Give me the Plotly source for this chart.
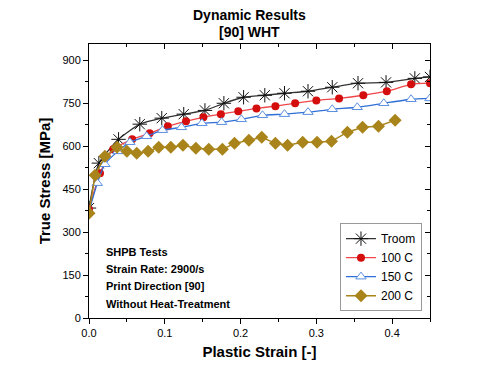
import plotly.graph_objects as go

# Troom
x_troom = [0.0, 0.013, 0.039, 0.067, 0.096, 0.125, 0.153, 0.178, 0.204, 0.232, 0.258, 0.289, 0.321, 0.355, 0.392, 0.430, 0.45]
y_troom = [384, 541, 624, 677, 698, 712, 725, 750, 771, 778, 785, 792, 806, 820, 823, 837, 842]
# 100 C
x_100 = [0.0, 0.0145, 0.032, 0.057, 0.080, 0.104, 0.128, 0.151, 0.174, 0.197, 0.221, 0.246, 0.272, 0.300, 0.330, 0.362, 0.393, 0.425, 0.45]
y_100 = [380, 506, 589, 624, 645, 670, 687, 701, 712, 722, 732, 740, 750, 760, 767, 778, 792, 816, 820]
# 150 C
x_150 = [0.0, 0.011, 0.021, 0.038, 0.054, 0.076, 0.097, 0.122, 0.149, 0.175, 0.201, 0.229, 0.258, 0.289, 0.321, 0.354, 0.389, 0.425, 0.45]
y_150 = [372, 471, 537, 582, 614, 635, 656, 666, 680, 684, 694, 708, 712, 719, 729, 736, 750, 764, 767]
# 200 C
x_200 = [0.0, 0.008, 0.021, 0.037, 0.050, 0.063, 0.078, 0.092, 0.108, 0.124, 0.141, 0.158, 0.176, 0.192, 0.211, 0.228, 0.246,
         0.262, 0.282, 0.301, 0.320, 0.341, 0.361, 0.382, 0.404]
y_200 = [366, 499, 565, 596, 582, 575, 582, 596, 596, 603, 593, 589, 589, 610, 621, 631, 610,
         603, 614, 614, 617, 649, 666, 670, 691]

x_ticks = [0.0, 0.1, 0.2, 0.3, 0.4]
y_ticks = [0, 150, 300, 450, 600, 750, 900]
notes = ["SHPB Tests", "Strain Rate: 2900/s", "Print Direction [90]", "Without Heat-Treatment"]
title_lines = ["Dynamic Results", "[90] WHT"]

X_RANGE = [0, 0.45]
Y_RANGE = [0, 957]
FONT = "Liberation Sans, Arial, sans-serif"

fig = go.Figure()
fig.add_trace(go.Scatter(x=x_troom, y=y_troom, name="Troom", mode="lines+markers",
                         line=dict(color="#333333", width=1.3, shape="spline", smoothing=0.5),
                         marker=dict(symbol="asterisk-open", size=12, color="#111111", line=dict(width=1, color="#111111"))))
fig.add_trace(go.Scatter(x=x_100, y=y_100, name="100 C", mode="lines+markers",
                         line=dict(color="#f0474a", width=1.3, shape="spline", smoothing=0.5),
                         marker=dict(symbol="circle", size=8, color="#d40d0d")))
fig.add_trace(go.Scatter(x=x_150, y=y_150, name="150 C", mode="lines+markers",
                         line=dict(color="#2f6fd6", width=1.3, shape="spline", smoothing=0.5),
                         marker=dict(symbol="triangle-up", size=9, color="white", line=dict(width=1, color="#5b8fe0"))))
fig.add_trace(go.Scatter(x=x_200, y=y_200, name="200 C", mode="lines+markers",
                         line=dict(color="#a8841a", width=1.5),
                         marker=dict(symbol="diamond", size=10, color="#a8841a")))
# transparent helper trace so the mirrored (inward-tick) axes are drawn
fig.add_trace(go.Scatter(x=x_troom, y=y_troom, xaxis="x2", yaxis="y2", mode="lines",
                         line=dict(color="rgba(0,0,0,0)"), showlegend=False, hoverinfo="skip"))

for i, t in enumerate(notes):
    fig.add_annotation(text=f"<b>{t}</b>", xref="paper", yref="paper", x=0.045, y=0.24 - i * 0.0625,
                       xanchor="left", yanchor="middle", showarrow=False,
                       font=dict(family=FONT, size=11, color="black"))

for i, t in enumerate(title_lines):
    fig.add_annotation(text=f"<b>{t}</b>", xref="paper", yref="paper", x=0.472, y=1.106 - i * 0.062,
                       xanchor="center", yanchor="middle", showarrow=False,
                       font=dict(family=FONT, size=14, color="black"))

fig.update_layout(
    width=499, height=382,
    margin=dict(l=81, r=77, t=36, b=72),
    paper_bgcolor="white", plot_bgcolor="white",
    font=dict(family=FONT, color="black"),
    showlegend=True,
    legend=dict(x=0.736, y=0.025, xanchor="left", yanchor="bottom", bgcolor="white",
                bordercolor="#999999", borderwidth=1, font=dict(family=FONT, size=12, color="black"),
                tracegroupgap=0, itemwidth=30),
    xaxis=dict(range=X_RANGE, tickvals=x_ticks, ticktext=[f"{v:.1f}" for v in x_ticks],
               ticks="outside", ticklen=5, tickwidth=1, tickcolor="black",
               minor=dict(dtick=0.05, ticks="outside", ticklen=3, tickcolor="black", showgrid=False),
               showline=True, linecolor="black", linewidth=1, showgrid=False, zeroline=False,
               tickfont=dict(family=FONT, size=11, color="black"),
               title=dict(text="<b>Plastic Strain [-]</b>", font=dict(family=FONT, size=15, color="black"), standoff=8)),
    yaxis=dict(range=Y_RANGE, tickvals=y_ticks,
               ticks="outside", ticklen=5, tickwidth=1, tickcolor="black",
               minor=dict(dtick=75, ticks="outside", ticklen=3, tickcolor="black", showgrid=False),
               showline=True, linecolor="black", linewidth=1, showgrid=False, zeroline=False,
               tickfont=dict(family=FONT, size=11, color="black"),
               title=dict(text="<b>True Stress [MPa]</b>", font=dict(family=FONT, size=15, color="black"), standoff=8)),
    xaxis2=dict(range=X_RANGE, overlaying="x", side="top", anchor="y", tickvals=x_ticks, showticklabels=False,
                ticks="inside", ticklen=5, tickcolor="black",
                minor=dict(dtick=0.05, ticks="inside", ticklen=3, tickcolor="black", showgrid=False),
                showline=True, linecolor="black", showgrid=False, zeroline=False),
    yaxis2=dict(range=Y_RANGE, overlaying="y", side="right", anchor="x", tickvals=y_ticks, showticklabels=False,
                ticks="inside", ticklen=5, tickcolor="black",
                minor=dict(dtick=75, ticks="inside", ticklen=3, tickcolor="black", showgrid=False),
                showline=True, linecolor="black", showgrid=False, zeroline=False),
)

fig.write_html("out.html")
